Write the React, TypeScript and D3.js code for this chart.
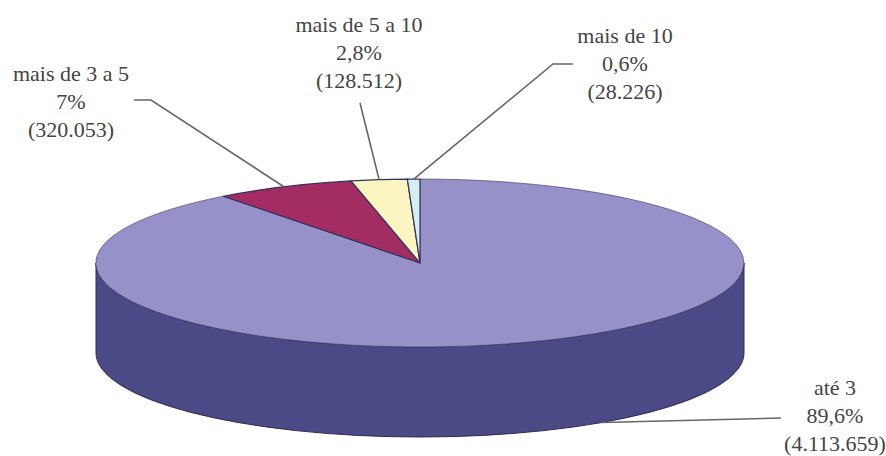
import React from "react";
import * as d3 from "d3";

// Share of holdings by size class
const categories = ["até 3", "mais de 3 a 5", "mais de 5 a 10", "mais de 10"];
const counts = [4113659, 320053, 128512, 28226];
const percentLabels = ["89,6%", "7%", "2,8%", "0,6%"];
const countLabels = ["(4.113.659)", "(320.053)", "(128.512)", "(28.226)"];
const topColors = ["#9691c9", "#a32c63", "#fbf6c1", "#d6edf2"];
const sideColor = "#4b4a87";
const labelAnchors = [
  [835, 395],
  [71, 81],
  [359, 32],
  [625, 43],
];
const leaderElbows = [
  [[781, 418]],
  [[134, 100], [151, 100]],
  [[360, 103]],
  [[573, 64], [553, 64]],
];

const W = 886;
const H = 456;
const cx = 420;
const cy = 263;
const rx = 324;
const ry = 84;
const depth = 90;
const lineStep = 28;

const slices = d3
  .pie<number>()
  .sort(null)
  .value((d) => d)(counts);

// Maps a clock angle on the disc to screen coordinates on the flattened ellipse
const rim = (a: number, drop = 0): [number, number] => [
  cx + rx * Math.sin(a),
  cy - ry * Math.cos(a) + drop,
];

const unitArc = d3.arc<d3.PieArcDatum<number>>().innerRadius(0).outerRadius(1);

const sidePath = `M${cx - rx},${cy} A${rx},${ry} 0 0 0 ${cx + rx},${cy} L${cx + rx},${
  cy + depth
} A${rx},${ry} 0 0 1 ${cx - rx},${cy + depth} Z`;

// The first slice's leader lands on the lower wall, the others on the top rim
const leaderTargets: [number, number][] = slices.map((s, i) =>
  i === 0 ? rim(Math.PI - 0.595, depth) : rim((s.startAngle + s.endAngle) / 2)
);

const leaderLine = d3.line();

export default function App() {
  return (
    <svg
      width={W}
      height={H}
      viewBox={`0 0 ${W} ${H}`}
      style={{ position: "absolute", left: 0, top: 0, background: "#fff" }}
      fontFamily="'Liberation Serif', serif"
    >
      <path d={sidePath} fill={sideColor} stroke="#2c2c50" strokeWidth={1} />
      <g transform={`translate(${cx},${cy}) scale(${rx},${ry})`}>
        {slices.map((s, i) => (
          <path
            key={categories[i]}
            d={unitArc(s) ?? ""}
            fill={topColors[i]}
            stroke="#33335a"
            strokeWidth={i === 0 ? 0.6 : 1.2}
            strokeLinejoin="round"
            vectorEffect="non-scaling-stroke"
          />
        ))}
      </g>
      {slices.map((s, i) => (
        <path
          key={categories[i]}
          d={leaderLine([...(leaderElbows[i] as [number, number][]), leaderTargets[i]]) ?? ""}
          fill="none"
          stroke="#666"
          strokeWidth={1.6}
        />
      ))}
      {categories.map((c, i) => (
        <text
          key={c}
          x={labelAnchors[i][0]}
          y={labelAnchors[i][1]}
          textAnchor="middle"
          fontSize={22}
          fill="#444"
        >
          <tspan x={labelAnchors[i][0]} dy={0}>{c}</tspan>
          <tspan x={labelAnchors[i][0]} dy={lineStep}>{percentLabels[i]}</tspan>
          <tspan x={labelAnchors[i][0]} dy={lineStep}>{countLabels[i]}</tspan>
        </text>
      ))}
    </svg>
  );
}
